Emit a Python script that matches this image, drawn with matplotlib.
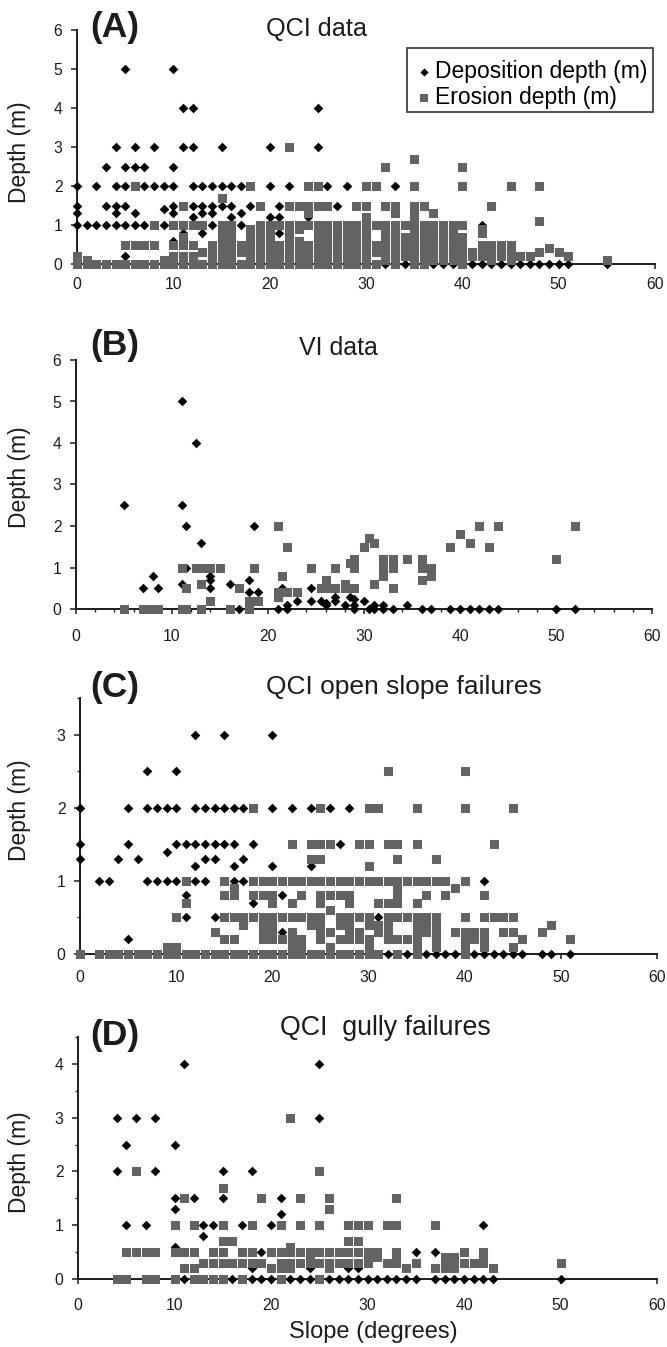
import numpy as np
import matplotlib
matplotlib.use('Agg')
import matplotlib.pyplot as plt
from matplotlib.patches import Rectangle

plt.rcParams['font.family'] = ['Liberation Sans', 'DejaVu Sans']

W, H = 667, 1347
SQ = '#636363'
INK = '#1c1c1c'

# (A) QCI data
a_dep_depth = [5, 4, 3, 2.5, 2, 1.5, 1.4, 1.3, 1.2, 1, 0.8, 0.7, 0.6, 0.2, 0]
a_dep_slope = [
    [5, 10],
    [11, 12, 25],
    [4, 6, 8, 11, 12, 15, 20, 25],
    [3, 5, 6, 7, 10],
    [0, 2, 4, 5, 7, 8, 9, 10, 12, 13, 14, 15, 16, 17, 20, 22, 26, 28, 33],
    [0, 3, 4, 5, 10, 12, 13, 14, 15, 16, 18, 21, 27],
    [9],
    [0, 4, 6, 10, 13, 14, 17],
    [12, 16, 20, 21, 24],
    [0, 1, 2, 3, 4, 5, 6, 7, 9, 14, 17, 42],
    [11, 13, 21],
    [18, 33],
    [10],
    [5, 24],
    [32, 34, 36, 37, 38, 39, 41, 42, 43, 44, 45, 46, 47, 48, 49, 50, 51, 55],
]
a_ero_depth = [3, 2.7, 2.5, 2, 1.7, 1.5, 1.3, 1.2, 1.1, 1, 0.9, 0.8, 0.7, 0.6, 0.5, 0.4, 0.3, 0.2, 0.1, 0]
a_ero_slope = [
    [22],
    [35],
    [32, 40],
    [6, 18, 24, 25, 30, 31, 35, 40, 45, 48],
    [15],
    [11, 19, 22, 23, 24, 25, 26, 29, 30, 32, 33, 35, 36, 43],
    [24, 33, 35, 37],
    [30, 35],
    [48],
    [8, 10, 11, 12, 13, 15, 16, 19, 20, 21, 22, 23, 24, 25, 26, 27, 28, 29, 30, 31, 32, 33, 34, 35, 36, 37, 38, 39, 40],
    [15, 16, 18, 19, 20, 22, 23, 25, 26, 27, 28, 29, 30, 32, 33, 35, 36, 38, 39, 42],
    [15, 16, 18, 19, 20, 22, 25, 26, 28, 29, 30, 32, 33, 35, 36, 37, 38, 39, 42],
    [11, 15, 16, 19, 20, 22, 25, 26, 27, 28, 29, 30, 32, 33, 34, 35, 36, 37, 38, 39, 40],
    [11, 15, 16, 18, 19, 20, 23, 26, 27, 28, 29, 30, 32, 33, 34, 35, 36, 37, 38, 39, 40],
    [5, 6, 7, 8, 10, 11, 12, 14, 15, 16, 17, 18, 19, 20, 21, 22, 23, 24, 25, 26, 27, 28, 29, 30, 31, 32, 33, 34, 35, 36, 37, 38, 40, 42, 43, 44, 45],
    [14, 15, 16, 18, 19, 20, 21, 22, 23, 24, 25, 26, 27, 28, 29, 30, 31, 32, 33, 34, 35, 36, 37, 38, 39, 40, 42, 43, 44, 45, 49],
    [13, 14, 15, 16, 17, 18, 19, 20, 21, 22, 23, 24, 25, 26, 27, 28, 29, 30, 31, 32, 33, 34, 35, 36, 37, 38, 39, 40, 41, 42, 43, 44, 45, 48, 50],
    [0, 10, 11, 12, 14, 15, 16, 18, 19, 20, 21, 22, 23, 24, 25, 26, 27, 28, 29, 30, 32, 33, 34, 35, 36, 37, 38, 39, 40, 41, 42, 43, 44, 45, 46, 47, 51],
    [0, 1, 9, 10, 11, 12, 15, 16, 18, 19, 20, 21, 22, 23, 24, 25, 26, 28, 29, 30, 32, 33, 35, 37, 38, 39, 40, 43, 45, 55],
    [0, 1, 2, 3, 4, 5, 6, 7, 8, 9, 10, 11, 12, 13, 14, 15, 16, 17, 18, 19, 20, 21, 22, 23, 24, 25, 26, 27, 28, 29, 30, 31, 33, 35, 36, 40],
]

# (B) VI data
b_dep_x = [11, 12.5, 5, 11, 11.5, 18.5, 13, 11.5, 8, 14, 14, 18, 7, 8.5, 14, 11, 16, 21.5, 24.5, 18, 19, 21, 23,
           24.5, 25.5, 26, 27, 27, 28, 28.5, 29, 29, 30, 31, 32, 22, 34.5, 26, 17, 21, 22, 29, 30.5, 31, 32, 33,
           36, 37, 39, 40, 41, 42, 43, 44, 50, 52]
b_dep_y = [5, 4, 2.5, 2.5, 2, 2, 1.6, 1, 0.8, 0.8, 0.7, 0.7, 0.5, 0.5, 0.5, 0.6, 0.6, 0.5, 0.5, 0.4, 0.4, 0.3, 0.2,
           0.2, 0.2, 0.15, 0.3, 0.2, 0.1, 0.3, 0.25, 0.1, 0.2, 0.1, 0.1, 0.1, 0.1, 0.1, 0, 0, 0, 0, 0, 0, 0, 0,
           0, 0, 0, 0, 0, 0, 0, 0, 0, 0]
b_ero_x = [5, 7, 7.5, 8, 8.5, 11, 11.5, 13, 16, 18, 18, 18, 19, 14, 21, 21, 22, 23, 11.5, 13, 17, 25.5, 26, 26, 27,
           28, 28, 29, 21.5, 11, 12.5, 13, 14, 15, 18.5, 24.5, 27, 28.5, 29, 29, 31, 32, 32, 32, 33, 33, 33, 34.5,
           36, 36, 36, 37, 37, 21, 22, 30, 30.5, 31, 39, 40, 41, 42, 43, 44, 50, 52]
b_ero_y = [0, 0, 0, 0, 0, 0, 0, 0, 0, 0, 0.1, 0.2, 0.2, 0.2, 0.3, 0.4, 0.4, 0.4, 0.5, 0.6, 0.5, 0.5, 0.5, 0.7, 0.5,
           0.5, 0.6, 0.5, 0.8, 1, 1, 1, 1, 1, 1, 1, 1, 1.1, 1, 1.2, 0.6, 0.8, 1, 1.2, 0.5, 1, 1.2, 1.2,
           0.7, 1, 1.2, 0.8, 1, 2, 1.5, 1.5, 1.7, 1.6, 1.5, 1.8, 1.6, 2, 1.5, 2, 1.2, 2]

# (C) QCI open slope failures
c_dep_depth = [3, 2.5, 2, 1.5, 1.4, 1.3, 1.2, 1, 0.8, 0.7, 0.5, 0.4, 0.3, 0.2, 0]
c_dep_slope = [
    [12, 15, 20],
    [7, 10],
    [0, 5, 7, 8, 9, 10, 12, 13, 14, 15, 16, 17, 20, 22, 24, 26, 28],
    [0, 5, 10, 11, 12, 13, 14, 15, 16, 18, 27],
    [9],
    [0, 4, 6, 13, 14, 17],
    [12, 16, 20, 24],
    [2, 3, 7, 8, 9, 10, 12, 13, 16, 17, 42],
    [11, 21],
    [18, 33],
    [11, 14, 31],
    [36],
    [21],
    [5, 23, 35],
    [32, 34, 36, 37, 38, 39, 41, 42, 43, 44, 45, 46, 48, 49, 51],
]
c_ero_depth = [2.5, 2, 1.5, 1.3, 1.2, 1, 0.9, 0.8, 0.7, 0.6, 0.5, 0.4, 0.3, 0.2, 0.1, 0]
c_ero_slope = [
    [32, 40],
    [18, 25, 30, 31, 35, 40, 45],
    [22, 24, 25, 26, 29, 30, 32, 33, 35, 43],
    [24, 25, 33, 37],
    [30],
    [11, 15, 18, 19, 20, 21, 22, 23, 24, 25, 26, 27, 28, 29, 30, 31, 32, 33, 34, 35, 36, 37, 38, 40],
    [16, 33, 39],
    [15, 16, 18, 19, 20, 23, 25, 26, 27, 28, 33, 36, 38, 42],
    [11, 20, 22, 25, 28, 31, 32, 33, 35],
    [26],
    [10, 15, 16, 17, 18, 19, 20, 21, 22, 23, 24, 25, 27, 28, 29, 30, 32, 33, 34, 35, 36, 37, 40, 42, 43, 44, 45],
    [17, 19, 20, 24, 25, 27, 28, 30, 31, 32, 35, 36, 37, 49],
    [14, 19, 20, 22, 25, 26, 28, 29, 31, 32, 35, 36, 37, 39, 40, 41, 42, 44, 45, 48],
    [15, 16, 19, 20, 21, 22, 23, 25, 27, 28, 29, 30, 32, 33, 34, 35, 37, 40, 41, 42, 46, 51],
    [9, 10, 22, 23, 26, 30, 35, 37, 40, 42, 45],
    [0, 2, 3, 4, 5, 6, 7, 8, 9, 10, 11, 12, 13, 14, 15, 16, 17, 18, 19, 20, 21, 22, 23, 24, 25, 26, 27, 28, 29, 30, 31, 33, 35, 40],
]

# (D) QCI gully failures
d_dep_depth = [4, 3, 2.5, 2, 1.5, 1.3, 1.2, 1, 0.8, 0.6, 0.5, 0.2, 0]
d_dep_slope = [
    [11, 25],
    [4, 6, 8, 25],
    [5, 10],
    [4, 8, 15, 18],
    [10, 12, 15, 21],
    [10],
    [21],
    [5, 7, 13, 14, 17, 20, 42],
    [13],
    [10],
    [19, 35, 37],
    [18, 24, 28, 29],
    [11, 16, 18, 19, 20, 22, 23, 24, 26, 27, 28, 29, 30, 31, 32, 33, 34, 35, 37, 38, 39, 40, 41, 42, 43, 50],
]
d_ero_depth = [3, 2, 1.7, 1.5, 1.3, 1, 0.7, 0.6, 0.5, 0.4, 0.3, 0.2, 0]
d_ero_slope = [
    [22],
    [6, 25],
    [15],
    [11, 19, 23, 26, 33],
    [26],
    [10, 12, 15, 18, 21, 23, 25, 28, 29, 30, 32, 33, 37],
    [15, 16, 28, 29],
    [22],
    [5, 6, 7, 8, 10, 11, 12, 14, 15, 17, 18, 20, 21, 22, 23, 24, 25, 26, 27, 28, 29, 30, 31, 33, 40, 42],
    [24, 30, 31, 33, 38, 39, 42],
    [13, 14, 15, 16, 17, 18, 19, 21, 22, 23, 24, 25, 26, 27, 28, 29, 30, 32, 33, 35, 38, 39, 40, 41, 42, 50],
    [11, 12, 20, 21, 22, 26, 34, 37, 38, 39, 43],
    [4, 5, 7, 8, 10, 12, 13, 14, 15, 17, 21, 25],
]


def flatten(depths, slopes):
    xs = np.concatenate([np.array(s, dtype=float) for s in slopes])
    ys = np.repeat(depths, [len(s) for s in slopes])
    return xs, ys


def make_axes(fig, left, right, top, bottom):
    ax = fig.add_axes([left / W, 1 - bottom / H, (right - left) / W, (bottom - top) / H])
    for side in ['top', 'right']:
        ax.spines[side].set_visible(False)
    for side in ['left', 'bottom']:
        ax.spines[side].set_linewidth(1.4)
        ax.spines[side].set_color(INK)
    return ax


def draw(ax, dx, dy, ex, ey, ymax, yticks, yminor=None, xminor=None, xpad=9):
    ax.scatter(dx, dy, marker='D', s=4.9 ** 2, linewidths=0, color='black', clip_on=False, zorder=3, snap=False, label='Deposition depth (m)')
    ax.scatter(ex, ey, marker='s', s=6.5 ** 2, linewidths=0, color=SQ, clip_on=False, zorder=4, snap=False, label='Erosion depth (m)')
    ax.set_xlim(0, 60)
    ax.set_ylim(0, ymax)
    ax.set_xticks([0, 10, 20, 30, 40, 50, 60])
    ax.set_yticks(yticks)
    if yminor:
        ax.set_yticks(yminor, minor=True)
    if xminor:
        ax.set_xticks(xminor, minor=True)
    ax.tick_params(axis='x', which='major', length=3.5, width=1.1, labelsize=11.3, pad=xpad, color=INK, labelcolor=INK)
    ax.tick_params(axis='y', which='major', length=4, width=1.1, labelsize=11.3, pad=6.5, color=INK, labelcolor=INK)
    ax.tick_params(which='minor', length=2.5, width=1, color=INK)


def label(fig, x, y, s, **kw):
    fig.text(x / W, 1 - y / H, s, ha=kw.pop('ha', 'center'), va='center', color=INK, **kw)


fig = plt.figure(figsize=(W / 100, H / 100), dpi=100)

ax_a = make_axes(fig, 77, 655, 30, 264)
draw(ax_a, *flatten(a_dep_depth, a_dep_slope), *flatten(a_ero_depth, a_ero_slope), 6, [0, 1, 2, 3, 4, 5, 6], xpad=6)
leg = ax_a.legend(loc='upper left', bbox_to_anchor=((407 - 77) / 578, (264 - 55) / 234), frameon=False,
                  fontsize=16.5, handletextpad=0.0, labelspacing=0.12, borderpad=0.22, borderaxespad=0,
                  handlelength=1.0, scatterpoints=1, markerscale=0.85)
fig.add_artist(Rectangle((407 / W, 1 - 112 / H), 246 / W, 64 / H, transform=fig.transFigure, fill=False,
                         edgecolor='#333333', linewidth=1.2))

ax_b = make_axes(fig, 76, 652, 360, 609)
draw(ax_b, b_dep_x, b_dep_y, b_ero_x, b_ero_y, 6, [0, 1, 2, 3, 4, 5, 6],
     xminor=[2, 4, 6, 8, 12, 14, 16, 18, 22, 24, 26, 28, 32, 34, 36, 38, 42, 44, 46, 48, 52, 54, 56, 58], xpad=11)

ax_c = make_axes(fig, 80, 657, 698, 954)
draw(ax_c, *flatten(c_dep_depth, c_dep_slope), *flatten(c_ero_depth, c_ero_slope), 3.5, [0, 1, 2, 3],
     yminor=[0.5, 1.5, 2.5, 3.5], xpad=8)

ax_d = make_axes(fig, 78, 657, 1037, 1279)
draw(ax_d, *flatten(d_dep_depth, d_dep_slope), *flatten(d_ero_depth, d_ero_slope), 4.5, [0, 1, 2, 3, 4],
     yminor=[0.5, 1.5, 2.5, 3.5, 4.5], xpad=10)

for name, y in [('(A)', 28), ('(B)', 345), ('(C)', 687), ('(D)', 1035)]:
    label(fig, 90, y, name, ha='left', fontsize=25.5, fontweight='bold')
for s, x, y, size in [('QCI data', 316, 29, 18.2), ('VI data', 338, 348, 18), ('QCI open slope failures', 404, 687, 19),
                      ('QCI  gully failures', 385, 1028, 19.3)]:
    label(fig, x, y, s, fontsize=size)
for y in [152, 477, 810, 1162]:
    label(fig, 20, y, 'Depth (m)', fontsize=16.5, rotation=90)
label(fig, 373, 1332, 'Slope (degrees)', fontsize=17)

plt.savefig('out.png', dpi=100)
